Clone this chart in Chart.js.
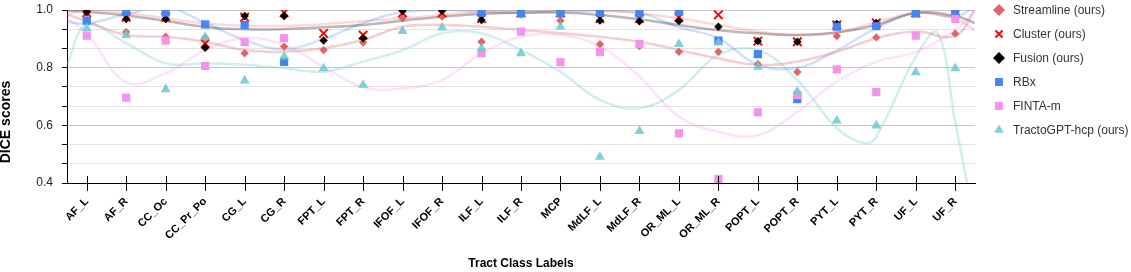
<!DOCTYPE html>
<html>
<head>
<meta charset="utf-8">
<script src="https://cdn.jsdelivr.net/npm/chart.js@4.4.1/dist/chart.umd.min.js"></script>
<style>
  html, body { margin: 0; padding: 0; background: #fff; }
  #wrap { width: 1131px; height: 272px; }
</style>
</head>
<body>
<div id="wrap"><canvas id="diceChart"></canvas></div>
<script>
const tractLabels = ["AF_L", "AF_R", "CC_Oc", "CC_Pr_Po", "CG_L", "CG_R", "FPT_L", "FPT_R", "IFOF_L", "IFOF_R", "ILF_L", "ILF_R", "MCP", "MdLF_L", "MdLF_R", "OR_ML_L", "OR_ML_R", "POPT_L", "POPT_R", "PYT_L", "PYT_R", "UF_L", "UF_R"];

// DICE per tract (null = no marker visible)
const streamline = [0.99, 0.924, 0.907, 0.905, 0.850, 0.873, 0.861, 0.887, 0.971, 0.977, 0.890, 0.985, 0.963, 0.881, 0.875, 0.855, 0.855, 0.812, 0.785, 0.910, 0.905, 0.99, 0.918];
const cluster = [0.99, 0.975, 0.975, 0.884, 0.975, 0.991, 0.919, 0.913, 0.99, 0.99, 0.97, 0.99, 0.99, 0.97, 0.97, 0.975, 0.983, 0.892, 0.890, 0.948, 0.955, 0.99, 0.995];
const fusion = [0.994, 0.969, 0.969, 0.869, 0.979, 0.979, 0.894, 0.902, 0.997, 0.997, 0.965, 0.99, 0.99, 0.963, 0.961, 0.962, 0.942, 0.892, 0.890, 0.952, 0.955, 0.99, 0.995];
const rbx = [0.963, 0.994, 0.991, 0.950, 0.948, 0.820, null, null, null, null, 0.991, 0.988, 0.988, 0.991, 0.988, 0.994, 0.894, 0.847, 0.691, 0.942, 0.944, 0.988, 0.994];
const fintaM = [0.911, 0.696, 0.894, 0.806, 0.889, 0.902, null, null, null, null, 0.850, 0.925, 0.819, 0.855, 0.882, 0.572, 0.414, 0.645, 0.705, 0.794, 0.715, 0.911, 0.969];
const tractoGPT = [0.936, 0.913, 0.725, 0.905, 0.755, 0.838, 0.798, 0.740, 0.927, 0.939, 0.867, 0.850, 0.942, 0.491, 0.580, 0.882, 0.887, 0.803, 0.717, 0.616, 0.599, 0.784, 0.798];

// faint trend curves (x in tract index units)
const trendAt = [-0.5, 0, 1, 2, 3, 4, 5, 6, 7, 8, 9, 10, 11, 12, 13, 14, 15, 16, 17, 18, 19, 20, 21, 22, 22.5];
const streamlineTrend = [0.985, 0.96, 0.913, 0.907, 0.890, 0.861, 0.855, 0.867, 0.896, 0.942, 0.948, 0.942, 0.931, 0.919, 0.907, 0.890, 0.861, 0.832, 0.809, 0.821, 0.855, 0.902, 0.925, 0.91, 1.0];
const clusterTrend = [0.983, 1.0, 0.99, 0.971, 0.954, 0.945, 0.945, 0.951, 0.961, 0.971, 0.983, 0.994, 1.0, 1.0, 1.0, 0.988, 0.971, 0.948, 0.925, 0.913, 0.922, 0.958, 0.99, 0.97, 0.93];
const fusionTrend = [0.997, 0.994, 0.981, 0.962, 0.941, 0.933, 0.934, 0.940, 0.948, 0.963, 0.977, 0.986, 0.991, 0.991, 0.983, 0.968, 0.948, 0.930, 0.919, 0.913, 0.922, 0.948, 0.99, 0.979, 0.955];
const rbxTrend = [0.96, 0.953, 0.985, 1.01, 0.955, 0.896, 0.864, 0.90, 0.955, 0.993, 1.0, 0.994, 0.99, 0.995, 0.996, 0.99, 0.94, 0.902, 0.81, 0.80, 0.86, 0.937, 0.99, 0.977, 1.01];
const fintaTrend = [0.97, 0.92, 0.75, 0.78, 0.861, 0.902, 0.879, 0.803, 0.732, 0.728, 0.757, 0.850, 0.907, 0.913, 0.873, 0.769, 0.630, 0.578, 0.566, 0.647, 0.752, 0.821, 0.855, 0.931, 1.0];
const tractoTrendAt = [-0.5, 0, 1, 2, 3, 4, 5, 6, 7, 8, 9, 10, 11, 12, 13, 14, 15, 16, 17, 18, 19, 19.7, 20, 21, 21.55, 22, 22.3, 22.5];
const tractoTrend = [0.81, 0.948, 0.885, 0.815, 0.815, 0.81, 0.798, 0.786, 0.821, 0.861, 0.919, 0.919, 0.861, 0.786, 0.688, 0.660, 0.723, 0.844, 0.861, 0.757, 0.59, 0.538, 0.561, 0.838, 0.92, 0.61, 0.4, 0.25];

const yMajorTicks = [0.4, 0.6, 0.8, 1.0];
const yMinorPerMajor = 3;

const FONT = "'Liberation Sans', Arial, sans-serif";

function pts(values) {
  return values.map((v, i) => ({ x: i, y: v }));
}
function curve(xs, values) {
  return values.map((v, i) => ({ x: xs[i], y: v }));
}

const pointSets = [
  { label: "Streamline (ours)", data: pts(streamline), pointStyle: "rectRot", radius: 4.2, color: "#e06666", legendRadius: 6, order: 6 },
  { label: "Cluster (ours)", data: pts(cluster), pointStyle: "crossRot", radius: 6, color: "#ff0000", legendRadius: 5, order: 5, stroke: true },
  { label: "Fusion (ours)", data: pts(fusion), pointStyle: "rectRot", radius: 4.2, color: "#000000", legendRadius: 6, order: 4 },
  { label: "RBx", data: pts(rbx), pointStyle: "rect", radius: 5.8, color: "#4285f4", legendRadius: 5.6, order: 3 },
  { label: "FINTA-m", data: pts(fintaM), pointStyle: "rect", radius: 5.8, color: "#f492ee", legendRadius: 5.6, order: 2 },
  { label: "TractoGPT-hcp (ours)", data: pts(tractoGPT), pointStyle: "triangle", radius: 5.8, color: "rgba(110,202,208,0.88)", legendRadius: 5.6, order: 1 }
];

const trendSets = [
  { data: curve(trendAt, streamlineTrend), color: "rgba(224,102,102,0.32)" },
  { data: curve(trendAt, clusterTrend), color: "rgba(255,60,60,0.2)" },
  { data: curve(trendAt, fusionTrend), color: "rgba(0,0,0,0.28)" },
  { data: curve(trendAt, rbxTrend), color: "rgba(66,133,244,0.25)" },
  { data: curve(trendAt, fintaTrend), color: "rgba(245,150,240,0.28)" },
  { data: curve(tractoTrendAt, tractoTrend), color: "rgba(120,205,212,0.35)" }
];

const datasets = [];
trendSets.forEach((t, i) => {
  datasets.push({
    data: t.data,
    showLine: true,
    pointRadius: 0,
    borderColor: t.color,
    borderWidth: 2.5,
    tension: 0.4,
    order: 20 + i
  });
});
pointSets.forEach(p => {
  datasets.push({
    label: p.label,
    data: p.data,
    pointStyle: p.pointStyle,
    pointRadius: p.radius,
    pointBackgroundColor: p.stroke ? "rgba(0,0,0,0)" : p.color,
    pointBorderColor: p.color,
    pointBorderWidth: p.stroke ? 2 : 0,
    showLine: false,
    order: p.order
  });
});

function isMajor(v) {
  return yMajorTicks.some(m => Math.abs(m - v) < 1e-6);
}

const decorations = {
  id: "decorations",
  afterDraw(chart) {
    const ctx = chart.ctx;
    const area = chart.chartArea;
    const xs = chart.scales.x;
    ctx.save();
    // x tick marks crossing the axis
    ctx.strokeStyle = "#000";
    ctx.lineWidth = 1;
    tractLabels.forEach((_, i) => {
      const px = Math.round(xs.getPixelForValue(i)) + 0.5;
      ctx.beginPath();
      ctx.moveTo(px, area.bottom - 7);
      ctx.lineTo(px, area.bottom + 8);
      ctx.stroke();
    });
    // axis titles
    ctx.fillStyle = "#000";
    ctx.font = "bold 12px " + FONT;
    ctx.textAlign = "center";
    ctx.textBaseline = "middle";
    ctx.fillText("Tract Class Labels", (area.left + area.right) / 2, 264);
    ctx.save();
    ctx.translate(6, 122);
    ctx.rotate(-Math.PI / 2);
    ctx.font = "bold 14px " + FONT;
    ctx.fillText("DICE scores", 0, 0);
    ctx.restore();
    // legend
    ctx.font = "12px " + FONT;
    ctx.textAlign = "left";
    pointSets.forEach((p, i) => {
      const y = 10 + i * 24;
      ctx.save();
      ctx.fillStyle = p.stroke ? "rgba(0,0,0,0)" : p.color;
      ctx.strokeStyle = p.color;
      ctx.lineWidth = p.stroke ? 2 : 0;
      Chart.helpers.drawPoint(ctx, { pointStyle: p.pointStyle, radius: p.legendRadius, rotation: 0, borderWidth: p.stroke ? 2 : 0 }, 999, y);
      ctx.restore();
      ctx.fillStyle = "#333";
      ctx.fillText(p.label, 1013, y + 1);
    });
    ctx.restore();
  }
};

new Chart(document.getElementById("diceChart"), {
  type: "scatter",
  data: { datasets },
  options: {
    responsive: true,
    maintainAspectRatio: false,
    animation: false,
    events: [],
    layout: { padding: { left: 0, right: 156, top: 10, bottom: 0 } },
    plugins: { legend: { display: false }, tooltip: { enabled: false } },
    scales: {
      x: {
        type: "linear",
        min: -0.5,
        max: 22.5,
        afterBuildTicks: s => { s.ticks = tractLabels.map((_, i) => ({ value: i })); },
        afterFit: s => { s.height = 89; s.paddingLeft = 0; s.paddingRight = 0; },
        grid: { display: false, drawTicks: false },
        border: { display: true, color: "#000", width: 1 },
        ticks: {
          autoSkip: false,
          minRotation: 45,
          maxRotation: 45,
          padding: 12,
          color: "#000",
          font: { family: FONT, size: 11, weight: "bold" },
          callback: v => tractLabels[v] ?? ""
        }
      },
      y: {
        min: 0.4,
        max: 1.0,
        afterBuildTicks: s => {
          const t = [];
          for (let k = 0; k < yMajorTicks.length - 1; k++) {
            const a = yMajorTicks[k], b = yMajorTicks[k + 1];
            for (let j = 0; j < yMinorPerMajor; j++) t.push({ value: a + (b - a) * j / yMinorPerMajor });
          }
          t.push({ value: yMajorTicks[yMajorTicks.length - 1] });
          s.ticks = t;
        },
        afterFit: s => { s.width = 67; s.paddingTop = 0; s.paddingBottom = 0; },
        grid: {
          color: c => isMajor(c.tick.value) ? "#c6c6c6" : "#e3e3e3",
          tickColor: "#000",
          tickLength: 5,
          lineWidth: 1
        },
        border: { display: true, color: "#000", width: 1 },
        ticks: {
          padding: 9,
          color: "#222",
          font: { family: FONT, size: 12 },
          callback: v => isMajor(v) ? v.toFixed(1) : ""
        }
      }
    }
  },
  plugins: [decorations]
});
</script>
</body>
</html>
